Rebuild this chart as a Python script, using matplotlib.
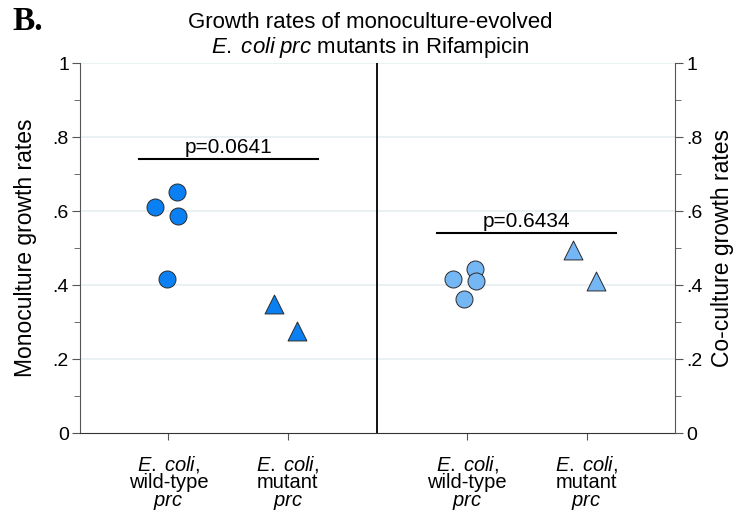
import numpy as np
import matplotlib
matplotlib.use('Agg')
import matplotlib.pyplot as plt

plt.rcParams['font.family'] = ['Liberation Sans', 'DejaVu Sans']
plt.rcParams['mathtext.fontset'] = 'custom'
plt.rcParams['mathtext.rm'] = 'Liberation Sans'
plt.rcParams['mathtext.it'] = 'Liberation Sans:italic'

# group positions on the x axis and the jittered x offsets of each point
group_pos = [1, 2, 3.5, 4.5]
mono_wt_x = [0.068, -0.114, 0.081, -0.011]
mono_wt_y = [0.652, 0.610, 0.587, 0.416]
mono_mut_x = [-0.117, 0.078]
mono_mut_y = [0.350, 0.276]
co_wt_x = [-0.120, 0.067, 0.075, -0.023]
co_wt_y = [0.415, 0.442, 0.411, 0.363]
co_mut_x = [-0.115, 0.078]
co_mut_y = [0.494, 0.412]

pvals = ['p=0.0641', 'p=0.6434']
p_y = [0.741, 0.541]

tick_labels = ['$\\it{E.\\;coli}$,\nwild-type\n$\\it{prc}$',
               '$\\it{E.\\;coli}$,\nmutant\n$\\it{prc}$',
               '$\\it{E.\\;coli}$,\nwild-type\n$\\it{prc}$',
               '$\\it{E.\\;coli}$,\nmutant\n$\\it{prc}$']
ytick_vals = [0, 0.2, 0.4, 0.6, 0.8, 1.0]
ytick_labels = ['0', '.2', '.4', '.6', '.8', '1']

dark_blue = '#0A80F2'
light_blue = '#75B6F5'
axis_col = '#555555'

fig = plt.figure(figsize=(7.36, 5.14), dpi=100)
ax = fig.add_axes([80/736, 1-433/514, 595/736, 370/514])

ax.set_xlim(0.26, 5.24)
ax.set_ylim(0, 1)

# gridlines
for yv in ytick_vals[1:]:
    ax.axhline(yv, color='#E6EFF1', linewidth=1.2, zorder=0)

circ_s = 150
tri_s = 185
ax.scatter(np.array(mono_wt_x) + group_pos[0], mono_wt_y, s=circ_s, marker='o',
           facecolor=dark_blue, edgecolor='#2a2a2a', linewidth=0.7, zorder=3)
ax.scatter(np.array(mono_mut_x) + group_pos[1], mono_mut_y, s=tri_s, marker='^',
           facecolor=dark_blue, edgecolor='#2a2a2a', linewidth=0.7, zorder=3)
ax.scatter(np.array(co_wt_x) + group_pos[2], co_wt_y, s=circ_s, marker='o',
           facecolor=light_blue, edgecolor='#2a2a2a', linewidth=0.7, zorder=3)
ax.scatter(np.array(co_mut_x) + group_pos[3], co_mut_y, s=tri_s, marker='^',
           facecolor=light_blue, edgecolor='#2a2a2a', linewidth=0.7, zorder=3)

# p-value bars
for i, (lo, hi) in enumerate([(group_pos[0], group_pos[1]), (group_pos[2], group_pos[3])]):
    mid = (lo + hi) / 2
    ax.plot([mid - 0.75, mid + 0.75], [p_y[i], p_y[i]], color='black', linewidth=1.5)
    ax.text(mid, p_y[i] + 0.006, pvals[i], ha='center', va='bottom', fontsize=15)

# divider
ax.axvline(2.75, color='black', linewidth=1.3)

ax.set_xticks(group_pos)
ax.set_xticklabels(tick_labels, fontsize=14.5, linespacing=0.9)
ax.tick_params(axis='x', length=5, color=axis_col, pad=10)

ax.set_yticks(ytick_vals)
ax.set_yticklabels(ytick_labels, fontsize=14)
ax.set_yticks(np.arange(0.1, 1.0, 0.2), minor=True)
ax.tick_params(axis='y', which='major', length=6, color=axis_col, pad=2)
ax.tick_params(axis='y', which='minor', length=4, color=axis_col)
ax.set_ylabel('Monoculture growth rates', fontsize=16.5)
ax.yaxis.set_label_coords(-(80 - 37) / 595, 0.5)

ax.spines['top'].set_visible(False)
ax.spines['right'].set_visible(False)
ax.spines['left'].set_color(axis_col)
ax.spines['bottom'].set_color('#333333')

ax2 = ax.twinx()
ax2.set_ylim(0, 1)
ax2.set_yticks(ytick_vals)
ax2.set_yticklabels(ytick_labels, fontsize=14)
ax2.set_yticks(np.arange(0.1, 1.0, 0.2), minor=True)
ax2.tick_params(axis='y', which='major', length=6, color=axis_col, pad=2)
ax2.tick_params(axis='y', which='minor', length=4, color=axis_col)
ax2.set_ylabel('Co-culture growth rates', fontsize=16.5)
ax2.yaxis.set_label_coords(1 + (711 - 675) / 595, 0.5)
for s in ['top', 'left', 'bottom']:
    ax2.spines[s].set_visible(False)
ax2.spines['right'].set_color(axis_col)

fig.text(370/736, 1-22/514, 'Growth rates of monoculture-evolved', ha='center', va='center', fontsize=16)
fig.text(370/736, 1-47/514, '$\\it{E.\\;coli\\;prc}$ mutants in Rifampicin',
         ha='center', va='center', fontsize=16)
fig.text(12/736, 1-22/514, 'B.', ha='left', va='center', fontsize=24, fontweight='bold',
         family='Liberation Serif')

fig.savefig('out.png', dpi=100)
